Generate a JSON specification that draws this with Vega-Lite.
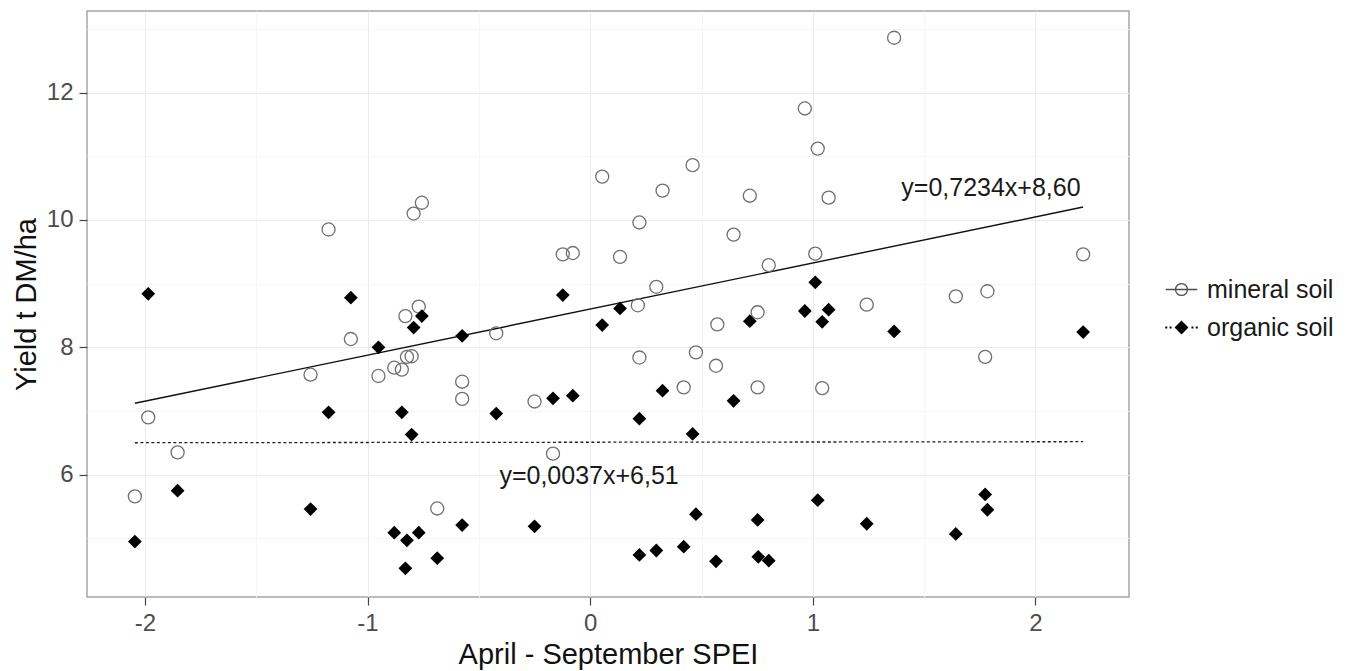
{
  "$schema": "https://vega.github.io/schema/vega-lite/v6.json",
  "width": 1042,
  "height": 586,
  "autosize": {"type": "none"},
  "padding": {"left": 87, "top": 11, "right": 224, "bottom": 74},
  "background": "white",
  "config": {
    "font": "Liberation Sans",
    "view": {"stroke": "#a6a6a6", "strokeWidth": 1.5},
    "axis": {
      "labelFont": "Liberation Sans",
      "labelFontSize": 24,
      "labelColor": "#4d4d4d",
      "labelOverlap": false,
      "titleFont": "Liberation Sans",
      "titleFontSize": 29,
      "titleFontWeight": "normal",
      "titleColor": "#111111",
      "tickColor": "#444444",
      "tickSize": 8,
      "tickWidth": 1.2,
      "domain": false,
      "gridWidth": 1
    }
  },
  "datasets": {
    "points": [
      {"soil": "mineral soil", "x": -2.045, "y": 5.66},
      {"soil": "mineral soil", "x": -1.985, "y": 6.90},
      {"soil": "mineral soil", "x": -1.853, "y": 6.35},
      {"soil": "mineral soil", "x": -1.256, "y": 7.57},
      {"soil": "mineral soil", "x": -1.175, "y": 9.85},
      {"soil": "mineral soil", "x": -1.075, "y": 8.13},
      {"soil": "mineral soil", "x": -0.951, "y": 7.55},
      {"soil": "mineral soil", "x": -0.880, "y": 7.68},
      {"soil": "mineral soil", "x": -0.846, "y": 7.65},
      {"soil": "mineral soil", "x": -0.830, "y": 8.49},
      {"soil": "mineral soil", "x": -0.823, "y": 7.85},
      {"soil": "mineral soil", "x": -0.802, "y": 7.86},
      {"soil": "mineral soil", "x": -0.793, "y": 10.10},
      {"soil": "mineral soil", "x": -0.770, "y": 8.64},
      {"soil": "mineral soil", "x": -0.756, "y": 10.27},
      {"soil": "mineral soil", "x": -0.687, "y": 5.47},
      {"soil": "mineral soil", "x": -0.575, "y": 7.46},
      {"soil": "mineral soil", "x": -0.575, "y": 7.19},
      {"soil": "mineral soil", "x": -0.422, "y": 8.22},
      {"soil": "mineral soil", "x": -0.250, "y": 7.15},
      {"soil": "mineral soil", "x": -0.167, "y": 6.33},
      {"soil": "mineral soil", "x": -0.123, "y": 9.46},
      {"soil": "mineral soil", "x": -0.078, "y": 9.48},
      {"soil": "mineral soil", "x": 0.054, "y": 10.68},
      {"soil": "mineral soil", "x": 0.134, "y": 9.42},
      {"soil": "mineral soil", "x": 0.214, "y": 8.66},
      {"soil": "mineral soil", "x": 0.221, "y": 9.96},
      {"soil": "mineral soil", "x": 0.221, "y": 7.84},
      {"soil": "mineral soil", "x": 0.297, "y": 8.95},
      {"soil": "mineral soil", "x": 0.325, "y": 10.46},
      {"soil": "mineral soil", "x": 0.420, "y": 7.37},
      {"soil": "mineral soil", "x": 0.460, "y": 10.86},
      {"soil": "mineral soil", "x": 0.475, "y": 7.92},
      {"soil": "mineral soil", "x": 0.565, "y": 7.71},
      {"soil": "mineral soil", "x": 0.571, "y": 8.36},
      {"soil": "mineral soil", "x": 0.644, "y": 9.77},
      {"soil": "mineral soil", "x": 0.717, "y": 10.38},
      {"soil": "mineral soil", "x": 0.752, "y": 8.55},
      {"soil": "mineral soil", "x": 0.752, "y": 7.37},
      {"soil": "mineral soil", "x": 0.802, "y": 9.29},
      {"soil": "mineral soil", "x": 0.964, "y": 11.75},
      {"soil": "mineral soil", "x": 1.011, "y": 9.47},
      {"soil": "mineral soil", "x": 1.022, "y": 11.12},
      {"soil": "mineral soil", "x": 1.042, "y": 7.36},
      {"soil": "mineral soil", "x": 1.071, "y": 10.35},
      {"soil": "mineral soil", "x": 1.242, "y": 8.67},
      {"soil": "mineral soil", "x": 1.365, "y": 12.86},
      {"soil": "mineral soil", "x": 1.642, "y": 8.80},
      {"soil": "mineral soil", "x": 1.774, "y": 7.85},
      {"soil": "mineral soil", "x": 1.784, "y": 8.88},
      {"soil": "mineral soil", "x": 2.214, "y": 9.46},
      {"soil": "organic soil", "x": -2.045, "y": 4.95},
      {"soil": "organic soil", "x": -1.985, "y": 8.84},
      {"soil": "organic soil", "x": -1.853, "y": 5.75},
      {"soil": "organic soil", "x": -1.256, "y": 5.46},
      {"soil": "organic soil", "x": -1.175, "y": 6.98},
      {"soil": "organic soil", "x": -1.075, "y": 8.78},
      {"soil": "organic soil", "x": -0.951, "y": 8.00},
      {"soil": "organic soil", "x": -0.880, "y": 5.09},
      {"soil": "organic soil", "x": -0.846, "y": 6.98},
      {"soil": "organic soil", "x": -0.830, "y": 4.53},
      {"soil": "organic soil", "x": -0.823, "y": 4.97},
      {"soil": "organic soil", "x": -0.802, "y": 6.63},
      {"soil": "organic soil", "x": -0.793, "y": 8.31},
      {"soil": "organic soil", "x": -0.770, "y": 5.09},
      {"soil": "organic soil", "x": -0.756, "y": 8.49},
      {"soil": "organic soil", "x": -0.687, "y": 4.69},
      {"soil": "organic soil", "x": -0.575, "y": 8.18},
      {"soil": "organic soil", "x": -0.575, "y": 5.21},
      {"soil": "organic soil", "x": -0.422, "y": 6.96},
      {"soil": "organic soil", "x": -0.250, "y": 5.19},
      {"soil": "organic soil", "x": -0.167, "y": 7.20},
      {"soil": "organic soil", "x": -0.123, "y": 8.82},
      {"soil": "organic soil", "x": -0.078, "y": 7.24},
      {"soil": "organic soil", "x": 0.054, "y": 8.35},
      {"soil": "organic soil", "x": 0.134, "y": 8.61},
      {"soil": "organic soil", "x": 0.221, "y": 6.88},
      {"soil": "organic soil", "x": 0.221, "y": 4.74},
      {"soil": "organic soil", "x": 0.297, "y": 4.81},
      {"soil": "organic soil", "x": 0.325, "y": 7.32},
      {"soil": "organic soil", "x": 0.420, "y": 4.87},
      {"soil": "organic soil", "x": 0.460, "y": 6.64},
      {"soil": "organic soil", "x": 0.475, "y": 5.38},
      {"soil": "organic soil", "x": 0.565, "y": 4.64},
      {"soil": "organic soil", "x": 0.644, "y": 7.16},
      {"soil": "organic soil", "x": 0.717, "y": 8.41},
      {"soil": "organic soil", "x": 0.752, "y": 5.29},
      {"soil": "organic soil", "x": 0.755, "y": 4.71},
      {"soil": "organic soil", "x": 0.802, "y": 4.65},
      {"soil": "organic soil", "x": 0.964, "y": 8.57},
      {"soil": "organic soil", "x": 1.011, "y": 9.02},
      {"soil": "organic soil", "x": 1.022, "y": 5.60},
      {"soil": "organic soil", "x": 1.042, "y": 8.40},
      {"soil": "organic soil", "x": 1.071, "y": 8.59},
      {"soil": "organic soil", "x": 1.242, "y": 5.23},
      {"soil": "organic soil", "x": 1.365, "y": 8.25},
      {"soil": "organic soil", "x": 1.642, "y": 5.07},
      {"soil": "organic soil", "x": 1.774, "y": 5.69},
      {"soil": "organic soil", "x": 1.784, "y": 5.45},
      {"soil": "organic soil", "x": 2.214, "y": 8.24}
    ],
    "fits": [
      {"soil": "mineral soil", "x": -2.045, "y": 7.121},
      {"soil": "mineral soil", "x": 2.214, "y": 10.202},
      {"soil": "organic soil", "x": -2.045, "y": 6.502},
      {"soil": "organic soil", "x": 2.214, "y": 6.518}
    ],
    "labels": [
      {"x": 1.80, "y": 10.50, "text": "y=0,7234x+8,60"},
      {"x": -0.005, "y": 5.98, "text": "y=0,0037x+6,51"}
    ]
  },
  "encoding": {
    "x": {
      "field": "x",
      "type": "quantitative",
      "scale": {"domain": [-2.26, 2.42], "nice": false, "zero": false},
      "axis": {
        "title": "April - September SPEI",
        "values": [-2, -1.5, -1, -0.5, 0, 0.5, 1, 1.5, 2],
        "labelExpr": "datum.value % 1 === 0 ? '' + datum.value : ''",
        "labelPadding": 6,
        "titlePadding": 5,
        "gridColor": {"condition": {"test": "datum.value % 1 !== 0", "value": "#f5f5f5"}, "value": "#ebebeb"},
        "tickOpacity": {"condition": {"test": "datum.value % 1 !== 0", "value": 0}, "value": 1}
      }
    },
    "y": {
      "field": "y",
      "type": "quantitative",
      "scale": {"domain": [4.08, 13.28], "nice": false, "zero": false},
      "axis": {
        "title": "Yield t DM/ha",
        "values": [5, 6, 7, 8, 9, 10, 11, 12, 13],
        "labelExpr": "datum.value % 2 === 0 ? '' + datum.value : ''",
        "labelPadding": 6,
        "titlePadding": 5,
        "gridColor": {"condition": {"test": "datum.value % 2 !== 0", "value": "#f5f5f5"}, "value": "#ebebeb"},
        "tickOpacity": {"condition": {"test": "datum.value % 2 !== 0", "value": 0}, "value": 1}
      }
    }
  },
  "layer": [
    {
      "data": {"name": "fits"},
      "transform": [{"filter": "datum.soil === 'mineral soil'"}],
      "mark": {"type": "line", "color": "#111111", "strokeWidth": 1.4}
    },
    {
      "data": {"name": "fits"},
      "transform": [{"filter": "datum.soil === 'organic soil'"}],
      "mark": {"type": "line", "color": "#222222", "strokeWidth": 1.3, "strokeDash": [3, 2.5]}
    },
    {
      "data": {"name": "points"},
      "transform": [{"filter": "datum.soil === 'mineral soil'"}],
      "mark": {"type": "point", "shape": "circle", "filled": false, "stroke": "#707070", "strokeWidth": 1.3, "size": 170, "opacity": 1}
    },
    {
      "data": {"name": "points"},
      "transform": [{"filter": "datum.soil === 'organic soil'"}],
      "mark": {"type": "point", "shape": "diamond", "filled": true, "fill": "#000000", "strokeWidth": 0, "size": 190, "opacity": 1}
    },
    {
      "data": {"name": "labels"},
      "mark": {"type": "text", "fontSize": 25, "font": "Liberation Sans", "color": "#1a1a1a", "align": "center", "baseline": "middle"},
      "encoding": {"text": {"field": "text", "type": "nominal"}}
    },
    {
      "data": {"name": "points"},
      "transform": [{"filter": "datum.soil === 'legend only'"}],
      "mark": {"type": "point", "opacity": 1, "strokeWidth": 1.3},
      "encoding": {
        "shape": {
          "field": "soil",
          "type": "nominal",
          "scale": {
            "domain": ["mineral soil", "organic soil"],
            "range": [
              "M-0.95,0H0.95M0.36,0A0.36,0.36,0,1,1,-0.36,0A0.36,0.36,0,1,1,0.36,0",
              "M0,-0.42L0.42,0L0,0.42L-0.42,0Z M-0.98,-0.06H-0.86V0.06H-0.98Z M-0.72,-0.06H-0.6V0.06H-0.72Z M0.6,-0.06H0.72V0.06H0.6Z M0.86,-0.06H0.98V0.06H0.86Z"
            ]
          },
          "legend": {
            "title": null,
            "orient": "none",
            "legendX": 1077,
            "legendY": 261,
            "padding": 0,
            "symbolSize": 1100,
            "symbolStrokeWidth": 1.3,
            "labelFont": "Liberation Sans",
            "labelFontSize": 25,
            "labelColor": "#1a1a1a",
            "labelOffset": 8,
            "rowPadding": 7
          }
        },
        "fill": {
          "field": "soil",
          "type": "nominal",
          "scale": {"domain": ["mineral soil", "organic soil"], "range": ["transparent", "#000000"]},
          "legend": {
            "title": null,
            "orient": "none",
            "legendX": 1077,
            "legendY": 261,
            "padding": 0,
            "symbolSize": 1100,
            "symbolStrokeWidth": 1.3,
            "labelFont": "Liberation Sans",
            "labelFontSize": 25,
            "labelColor": "#1a1a1a",
            "labelOffset": 8,
            "rowPadding": 7
          }
        },
        "stroke": {
          "field": "soil",
          "type": "nominal",
          "scale": {"domain": ["mineral soil", "organic soil"], "range": ["#4d4d4d", "transparent"]},
          "legend": {
            "title": null,
            "orient": "none",
            "legendX": 1077,
            "legendY": 261,
            "padding": 0,
            "symbolSize": 1100,
            "symbolStrokeWidth": 1.3,
            "labelFont": "Liberation Sans",
            "labelFontSize": 25,
            "labelColor": "#1a1a1a",
            "labelOffset": 8,
            "rowPadding": 7
          }
        }
      }
    }
  ]
}
